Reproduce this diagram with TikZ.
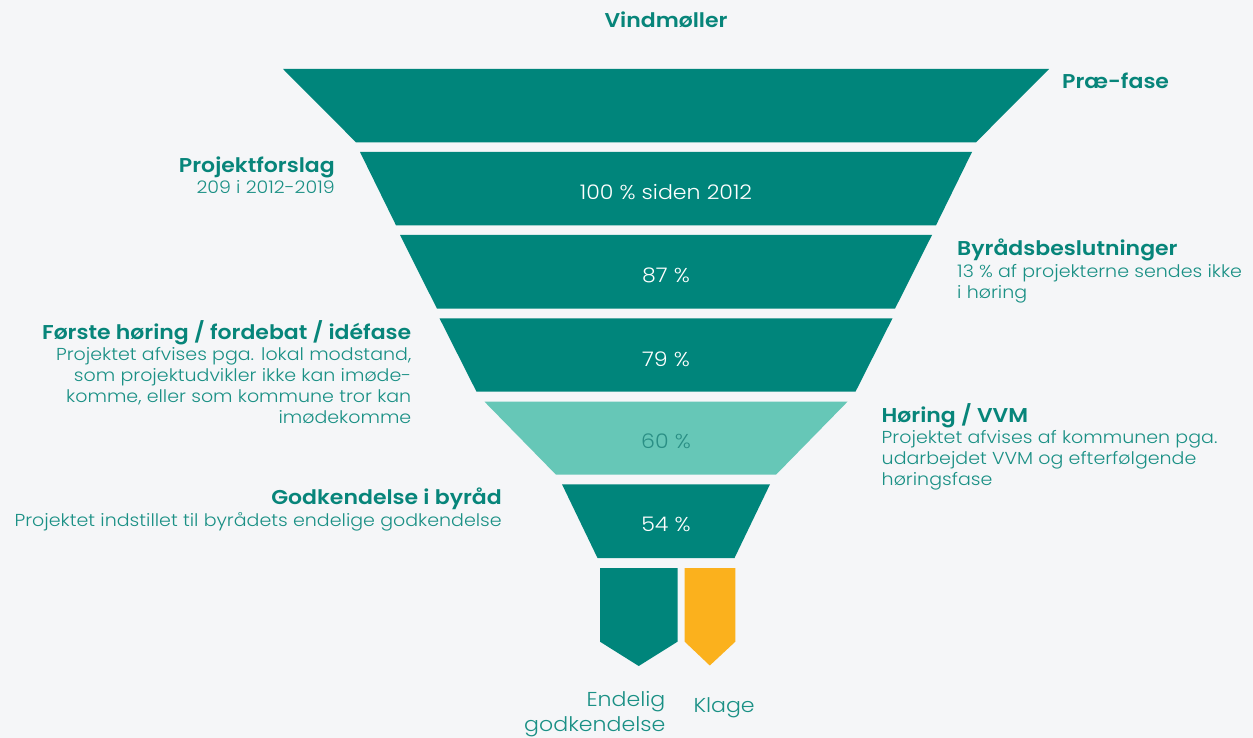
\documentclass[tikz,border=0pt]{standalone}
\usepackage{fontspec}
\setmainfont{Poppins}[UprightFont=* Light, BoldFont=* SemiBold, FakeStretch=1.1]

\definecolor{pagebg}{HTML}{F5F6F8}
\definecolor{band}{HTML}{00857B}
\definecolor{bandlight}{HTML}{66C7B7}
\definecolor{appeal}{HTML}{FBB11D}
\definecolor{titlecol}{HTML}{07857A}
\definecolor{bodycol}{HTML}{1A9085}
\definecolor{pctdark}{HTML}{2A8F85}

\tikzset{
  bandshape/.style={fill=band},
  headline/.style={font=\fontsize{20}{24}\selectfont\bfseries, text=titlecol, inner sep=0pt},
  bodytext/.style={font=\fontsize{17.3}{21.1}\selectfont, text=bodycol, inner sep=0pt},
  pct/.style={font=\fontsize{20.1}{25}\selectfont, text=white, inner sep=0pt, anchor=base},
  outcome/.style={font=\fontsize{20.1}{25}\selectfont, text=bodycol, inner sep=0pt},
}

\begin{document}
\begin{tikzpicture}[x=1pt,y=-1pt]
  \fill[pagebg] (0,0) rectangle (1253,738);
  \useasboundingbox (0,0) rectangle (1253,738);

  % funnel bands, symmetric about x = 666
  \def\cx{666}
  \fill[bandshape] (\cx-383,69)    -- (\cx+383,69)    -- (\cx+310,142.3) -- (\cx-310,142.3) -- cycle;
  \fill[bandshape] (\cx-306,152)   -- (\cx+306,152)   -- (\cx+270,225.3) -- (\cx-270,225.3) -- cycle;
  \fill[bandshape] (\cx-266,235)   -- (\cx+266,235)   -- (\cx+229,308.7) -- (\cx-229,308.7) -- cycle;
  \fill[bandshape] (\cx-226.5,318.3) -- (\cx+226.5,318.3) -- (\cx+189.5,391.7) -- (\cx-189.5,391.7) -- cycle;
  \fill[bandlight] (\cx-181.5,401.7) -- (\cx+181.5,401.7) -- (\cx+110,474.7) -- (\cx-110,474.7) -- cycle;
  \fill[bandshape] (\cx-104,484.3) -- (\cx+104,484.3) -- (\cx+68.5,558) -- (\cx-68.5,558) -- cycle;

  % outcome arrows
  \fill[band]   (600,568) -- (677.5,568) -- (677.5,641.7) -- (638.7,666) -- (600,641.7) -- cycle;
  \fill[appeal] (684.7,568) -- (735.3,568) -- (735.3,641.7) -- (709.8,665.5) -- (684.7,641.7) -- cycle;

  % percentages inside the bands
  \node[pct] (p100) at (\cx,199.3) {100 \% siden 2012};
  \node[pct] (p87)  at (\cx,282)   {87 \%};
  \node[pct] (p79)  at (\cx,366)   {79 \%};
  \node[pct, text=pctdark] (p60) at (\cx,448.7) {60 \%};
  \node[pct] (p54)  at (\cx,531.7) {54 \%};

  % headings and descriptions
  \node[headline, anchor=base] (vind) at (\cx,27.3) {Vindmøller};
  \node[headline, anchor=base west] (prae) at (1062,89) {Præ-fase};

  \node[headline, anchor=base east] (projt) at (335,172.7) {Projektforslag};
  \node[bodytext, anchor=base east] (projb) at (335,194) {209 i 2012-2019};

  \node[headline, anchor=base west] (byt) at (957,255.3) {Byrådsbeslutninger};
  \node[bodytext, anchor=north west, align=left] (byb) at (957,262.6)
    {\strut 13 \% af projekterne sendes ikke\\i høring};

  \node[headline, anchor=base east] (fht) at (411.5,339.3) {Første høring / fordebat / idéfase};
  \node[bodytext, anchor=north east, align=right] (fhb) at (411.5,345.2)
    {\strut Projektet afvises pga. lokal modstand,\\som projektudvikler ikke kan imøde-\\komme, eller som kommune tror kan\\imødekomme};

  \node[headline, anchor=base west] (hvt) at (881.5,422.3) {Høring / VVM};
  \node[bodytext, anchor=north west, align=left] (hvb) at (881.5,428.5)
    {\strut Projektet afvises af kommunen pga.\\udarbejdet VVM og efterfølgende\\høringsfase};

  \node[headline, anchor=base east] (gkt) at (502,504) {Godkendelse i byråd};
  \node[bodytext, anchor=base east] (gkb) at (502,526.7) {Projektet indstillet til byrådets endelige godkendelse};

  % outcome labels
  \node[outcome, anchor=north east, align=right] (endl) at (665.6,689.2) {\strut Endelig\\godkendelse};
  \node[outcome, anchor=base west] (klage) at (693.3,712.3) {Klage};
\end{tikzpicture}
\end{document}
